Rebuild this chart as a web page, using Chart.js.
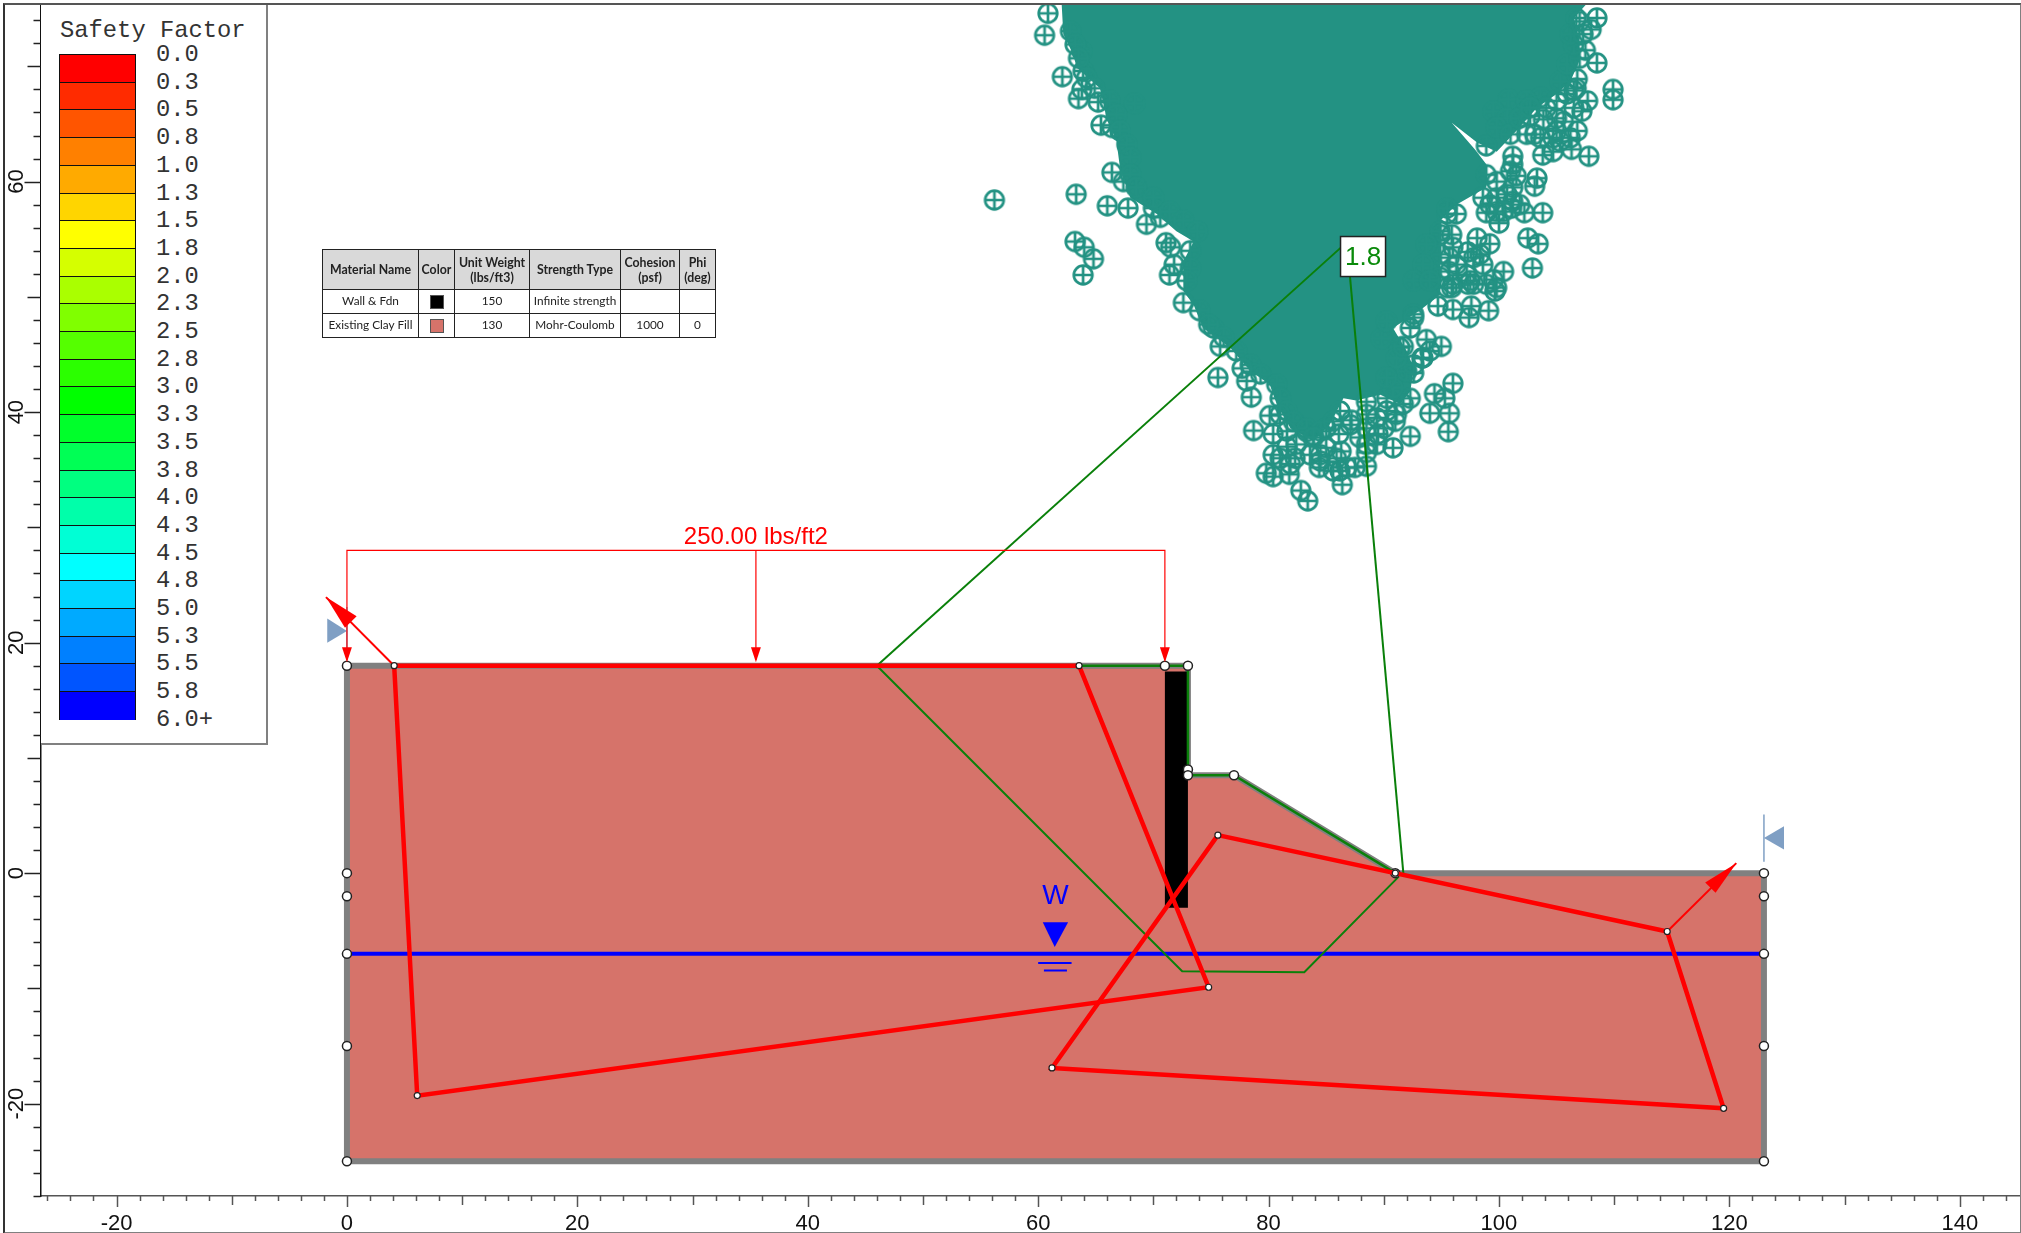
<!DOCTYPE html>
<html lang="en">

<head>
    <meta charset="UTF-8">
    <title>Safety Factor</title>
    <script src="https://cdn.jsdelivr.net/npm/chart.js"></script>
    <style>
        html, body { margin: 0; padding: 0; background: #fff; }
        #wrap { position: relative; width: 2021px; height: 1233px; overflow: hidden; }
        #plot { position: absolute; left: 0; top: 0; }
        #frame { position: absolute; left: 3px; top: 3px; width: 2015px; height: 1227px;
                 border: 2px solid #808080; border-left-color: #333; border-top-color: #555; pointer-events: none; }
        #scale { position: absolute; left: 41px; top: 5px; width: 225px; height: 738px; background: #fff;
                 border-right: 2px solid #808080; border-bottom: 2px solid #808080;
                 font-family: "Liberation Mono", monospace; color: #333; }
        #scale .title { position: absolute; left: 19px; top: 14px; font-size: 23.8px; line-height: 24px; white-space: pre; }
        #scale .band { position: absolute; left: 18px; width: 77px; box-sizing: border-box;
                       border: 1px solid #111; border-bottom: 0; }
        #scale .lab { position: absolute; left: 115px; font-size: 23.8px; line-height: 24px; white-space: pre; }
        #materials { position: absolute; left: 322px; top: 249px; border-collapse: collapse; table-layout: fixed;
                     font-family: Lato, "Open Sans", sans-serif; font-size: 11.8px; line-height: 15px; color: #222; text-align: center; }
        #materials th, #materials td { border: 1.5px solid #222; padding: 0; background: #fff; }
        #materials th { background: #d9d9d9; font-weight: bold; font-size: 12.3px; height: 39px; }
        #materials td { height: 21px; padding-bottom: 2px; }
        #materials i { display: inline-block; width: 14px; height: 14px; vertical-align: middle; border: 1px solid #555; box-sizing: border-box; }
    </style>
</head>

<body>
    <div id="wrap">
        <canvas id="plot" width="2021" height="1233"></canvas>
        <div id="scale"></div>
        <table id="materials">
            <colgroup><col style="width:96px"><col style="width:36px"><col style="width:75px"><col style="width:91px"><col style="width:59px"><col style="width:36px"></colgroup>
            <tr><th>Material Name</th><th>Color</th><th>Unit Weight<br>(lbs/ft3)</th><th>Strength Type</th><th>Cohesion<br>(psf)</th><th>Phi<br>(deg)</th></tr>
            <tr><td>Wall &amp; Fdn</td><td><i style="background:#000"></i></td><td>150</td><td>Infinite strength</td><td></td><td></td></tr>
            <tr><td>Existing Clay Fill</td><td><i style="background:#d6736a"></i></td><td>130</td><td>Mohr-Coulomb</td><td>1000</td><td>0</td></tr>
        </table>
        <div id="frame"></div>
    </div>

    <script>
        const xTickLabels = [-20, 0, 20, 40, 60, 80, 100, 120, 140];
        const yTickLabels = [-20, 0, 20, 40, 60];

        const safetyLabels = ['0.0', '0.3', '0.5', '0.8', '1.0', '1.3', '1.5', '1.8', '2.0', '2.3', '2.5', '2.8', '3.0',
            '3.3', '3.5', '3.8', '4.0', '4.3', '4.5', '4.8', '5.0', '5.3', '5.5', '5.8', '6.0+'];
        const safetyColors = ['#ff0000', '#ff2b00', '#ff5500', '#ff8000', '#ffaa00', '#ffd500', '#ffff00', '#d5ff00',
            '#aaff00', '#80ff00', '#55ff00', '#2bff00', '#00ff00', '#00ff2b', '#00ff55', '#00ff80', '#00ffaa', '#00ffd5',
            '#00ffff', '#00d5ff', '#00aaff', '#0080ff', '#0055ff', '#0000ff'];

        // geometry, in feet
        const clayOutline = [[0, 18], [73, 18], [73, 8.5], [77, 8.5], [91, 0], [123, 0], [123, -25], [0, -25], [0, 18]];
        const wallOutline = [[71, 17.5], [73, 17.5], [73, -3], [71, -3], [71, 17.5]];
        const waterTable = [[0, -7], [123, -7]];
        const waterMark = [[60.4, -4.25], [62.6, -4.25], [61.44, -6.4], [60.4, -4.25]];
        const waterDash1 = [[60, -7.8], [62.9, -7.8]];
        const waterDash2 = [[60.5, -8.45], [62.5, -8.45]];
        const slipSurface = [[46, 18], [72.5, -8.5], [83.1, -8.6], [91.3, -0.3]];
        const criticalTop = [[63.5, 18], [73, 18], [73, 8.5], [77, 8.5], [91, 0]];
        const radiusLeft = [[46, 18], [86.8, 54.75]];
        const radiusRight = [[86.8, 54.75], [91.7, 0]];
        const wedgeActive = [[4.1, 18], [6.1, -19.3], [74.8, -9.9], [63.55, 18], [4.1, 18]];
        const wedgePassive = [[75.6, 3.3], [114.6, -5.06], [119.5, -20.4], [61.2, -16.9], [75.6, 3.3]];
        const arrowLeft = [[4.1, 18], [-1.82, 23.95]];
        const arrowLeftHead = [[-1.82, 23.95], [0.84, 22.3], [-0.17, 21.3], [-1.82, 23.95]];
        const arrowRight = [[114.6, -5.06], [120.6, 0.87]];
        const arrowRightHead = [[120.6, 0.87], [117.9, -0.8], [118.8, -1.7], [120.6, 0.87]];
        const loadBracket = [[0, 18.5], [0, 28], [71, 28], [71, 18.5]];
        const loadMiddle = [[35.5, 28], [35.5, 18.5]];
        const loadHeadA = [[-0.43, 19.6], [0.43, 19.6], [0, 18.3], [-0.43, 19.6]];
        const loadHeadB = [[35.07, 19.6], [35.93, 19.6], [35.5, 18.3], [35.07, 19.6]];
        const loadHeadC = [[70.57, 19.6], [71.43, 19.6], [71, 18.3], [70.57, 19.6]];
        const limitLeft = [[-1.71, 22.1], [0, 21], [-1.71, 20], [-1.71, 22.1]];
        const limitLeftBar = [[0, 23.1], [0, 18.9]];
        const limitRight = [[124.74, 4.08], [123, 3.06], [124.74, 2.05], [124.74, 4.08]];
        const limitRightBar = [[123, 5.1], [123, 1]];
        const boundaryNodes = [[0, 18], [0, 0], [0, -2], [0, -7], [0, -15], [0, -25], [123, 0], [123, -2], [123, -7], [123, -15],
            [123, -25], [73, 18], [73, 9], [73, 8.5], [77, 8.5], [91, 0], [71, 18]];
        const wedgeNodes = [[4.1, 18], [6.1, -19.3], [74.8, -9.9], [63.55, 18], [75.6, 3.3], [114.6, -5.06], [119.5, -20.4], [61.2, -16.9], [91, 0]];

        // slip centres: where they overlap to a solid mass only the outline of the mass is kept
        const centreMass = [[62.04, 75.4], [62.18, 72.8], [63.05, 71], [63.34, 69.9], [65.36, 68.1], [65.94, 65.5], [66.8, 63.5], [67.1, 61.2],
            [68, 58.6], [70.3, 57.2], [72, 55.7], [73.5, 54.8], [72.6, 53.1], [72.6, 50.5], [73.5, 49.3], [74.3, 47.3], [76.65, 45.6],
            [78.4, 43.6], [80.1, 42.4], [80.7, 40.7], [81.9, 38.6], [83.9, 37.5], [85.3, 38.9], [86.5, 41.2], [87.6, 41], [89.7, 41.5],
            [91.4, 40.7], [92.3, 41.8], [92.6, 43.8], [92, 45.3], [90.8, 47.3], [93.1, 48.8], [94.9, 50.2], [94.9, 56.6], [96.3, 58],
            [98.9, 59.5], [98.9, 61.5], [97.9, 62.8], [95.9, 65.1], [98.1, 63.4], [99.8, 62.6], [101.5, 64.4], [103.3, 66.4], [105, 67.6], [106.2, 68.7],
            [107, 70.5], [107, 72.2], [106.5, 74.2], [107.6, 75.4], [62.04, 75.4]];
        const centresLeft = [[60.56, 72.7], [62.1, 69.1], [63.5, 67.2], [65.2, 66.9], [68.4, 66.8], [65.45, 64.9], [66.4, 60.8], [63.3, 58.9],
            [66, 57.9], [67.8, 57.7], [69.4, 56.3], [63.2, 54.8], [64, 54.3], [64.8, 53.3], [63.9, 51.9], [71.1, 54.7], [71.5, 54.3], [71.4, 51.9],
            [71.8, 52.8], [60.85, 74.6], [62.8, 73.06], [63.8, 71.3], [63.9, 69.6], [63.8, 68], [66.4, 64.7], [67.4, 60], [70, 57.7], [70.6, 56.9],
            [56.2, 58.4],
            [63.2, 71.9], [63.5, 70.7], [64.2, 69], [64.9, 68.1], [66.2, 67], [66.8, 65.8], [67.1, 64.4], [67.7, 63.2], [68, 62.1], [68, 60.6], [68.5, 59.5],
            [70, 58.6], [71.4, 57.4], [72.6, 56.6], [73.8, 55.7], [73.2, 54], [73.2, 52.5], [72.9, 51.4],
            [74, 48.8], [75.2, 47.3], [76.1, 46.5], [77.2, 45.3], [78.4, 44.1], [79.3, 43.3], [80.7, 42.4], [81, 41.2], [81.6, 40.1], [83.9, 38], [83.3, 38.3],
            [85, 38.6], [86.2, 40.1], [88.5, 40.9], [90.25, 41.2]];
        const centresRight = [[108.5, 74.2], [108, 73.2], [106.7, 74.2], [108.5, 70.3], [107.5, 71.4], [106.8, 68.9], [109.9, 68], [109.9, 67.1],
            [107.7, 67], [107.2, 66.1], [106.8, 64.4], [107.8, 62.2], [106.3, 62.8], [104.7, 62.6], [103.8, 62.3], [103.1, 64.1], [105, 65.5],
            [103.3, 60.3], [103.1, 59.6], [101.5, 60.5], [101.2, 62.2], [101.2, 61.5], [98.9, 63.1], [103.8, 57.3], [102.2, 57.3],
            [100, 56.4], [98.9, 57.3], [101.1, 57.7], [102.5, 55.1], [103.4, 54.6], [102.9, 52.5], [100.4, 52.2], [99.5, 51.5], [99.8, 50.8],
            [99.2, 54.6], [98.1, 55.1], [95.9, 55.4], [94.9, 55.4], [95.5, 57.2], [97.8, 53.4], [97.3, 53.9], [95.7, 53.4], [95.7, 52.2],
            [97.5, 51.4], [95.5, 50.8], [100.8, 67.1],
            [94.9, 55.7], [96, 54.3], [94.9, 53.7], [96.3, 52.8], [94.9, 51.7], [97.2, 51.9], [98.35, 53.7], [98.6, 52.8], [93.7, 54.55], [93.4, 52.8],
            [92.6, 51.4], [96, 51.1], [97.8, 51.1], [98.9, 51.1], [94, 51.4],
            [99.5, 66.1], [100.7, 65.5], [99.8, 64.7], [101, 64.1], [101.8, 65.5], [102.7, 65.7], [103.85, 65.4], [102.4, 64.1], [103.6, 63.8],
            [105, 64.4], [105.6, 65.2], [106.2, 63.8], [104.7, 63.8], [105.3, 63.5], [106.5, 66.4], [105.9, 67.6], [106.5, 67.9], [105, 67], [103.6, 67.3],
            [102.4, 67], [104.1, 66.4], [102.7, 66.4], [105.3, 68.7], [106.7, 68.1], [105.9, 70.2], [107, 70.7], [106.5, 71.9], [106.2, 72.8], [107, 73.9], [107.3, 72.8],
            [98.9, 60.6], [99.8, 60], [101, 60.9], [99.8, 58.6], [100.7, 58.9], [101.2, 58.3], [99.2, 58], [99.8, 57.4], [100.4, 57.4], [101.2, 59.5], [101.8, 58],
            [98.6, 58.6], [96.3, 57.2], [95.5, 57.7]];
        const centresLower = [[99.65, 50.5], [99.1, 48.8], [97.4, 48.2], [96, 48.9], [97.6, 49.2], [94.7, 49.2], [97.3, 51.1], [95.9, 50.8],
            [93.7, 46.3], [95, 45.7], [93.3, 44.7], [92.6, 43.4], [96, 42.5], [94.4, 41.6], [95.3, 41.2], [94, 39.9], [95.7, 39.9], [95.6, 38.3],
            [92.3, 37.9], [90.8, 36.9], [88.5, 37.2], [88.5, 35.3], [87.5, 35.2], [86.4, 33.7], [86.2, 34.9], [84.4, 35.2], [87.2, 39.3], [86.1, 38.1],
            [89.5, 38.1], [91, 39.2], [78.7, 38.4], [80.4, 38.1], [80.1, 39.7], [80.4, 36.3], [82.3, 36], [81.6, 37], [79.8, 34.7], [80.4, 34.4],
            [81.8, 34.6], [82.8, 33.2], [83.4, 32.3], [84.5, 36.3], [86.3, 36.6], [78.5, 41.3], [78.1, 42.7], [77.7, 43.8], [75.6, 43], [75.8, 45.7],
            [74.8, 47.6], [72.6, 49.5], [90.8, 43], [91.4, 45.6], [92.6, 48.5],
            [80.99, 39.8], [82.15, 39.2], [83.3, 38.6], [84.5, 38.35], [85.6, 39.2], [83.9, 37.8], [82.4, 37.2], [81.6, 38.35], [85, 36.9], [85.9, 36], [84.5, 35.75],
            [83.6, 36.3], [85.6, 34.9], [86.8, 35.2], [81, 36], [81.9, 35.5],
            [87.1, 38.9], [88.5, 39.8], [89.4, 39.5], [90.25, 40.1], [91.1, 39.8], [91.7, 40.7], [92.3, 41.2], [88.5, 38.6], [87.9, 37.8], [89.4, 37.2], [88.5, 36.5], [90, 38.6],
            [90.8, 42.1], [92, 43.55], [92.6, 44.1], [91.1, 44.7], [91.7, 45.7], [92.3, 47.3], [92.6, 48.2], [93.4, 44.7], [94, 45.3], [90.25, 43], [89.8, 46.4], [90.25, 47.9]];

        const toXY = pts => pts.map(p => ({ x: p[0], y: p[1] }));
        const stroke = (pts, color, width) => ({ data: toXY(pts), showLine: true, borderColor: color, borderWidth: width, pointRadius: 0, fill: false });
        const solid = (pts, color) => ({ data: toXY(pts), showLine: true, borderColor: color, borderWidth: 0, backgroundColor: color, pointRadius: 0, fill: 'shape' });
        const nodes = (pts, r, bw) => ({ data: toXY(pts), showLine: false, pointRadius: r, pointBorderWidth: bw, pointBackgroundColor: '#fff', pointBorderColor: '#222' });

        const RED = '#ff0000', GREEN = '#0a800a', BLUE = '#0000ff', TEAL = '#239283', STEEL = '#7f9fc4';

        // circle with a plus, the slip centre symbol
        const centreMark = document.createElement('canvas');
        centreMark.width = 24;
        centreMark.height = 24;
        const mc = centreMark.getContext('2d');
        mc.strokeStyle = TEAL;
        mc.lineWidth = 2.7;
        mc.beginPath();
        mc.arc(12, 12, 9.3, 0, Math.PI * 2);
        mc.moveTo(12, 2.7); mc.lineTo(12, 21.3);
        mc.moveTo(2.7, 12); mc.lineTo(21.3, 12);
        mc.stroke();

        const centres = pts => ({ data: toXY(pts), showLine: false, pointStyle: centreMark, pointRadius: 12 });

        // listed bottom first, reversed below because chart.js paints the first dataset last
        const layers = [
            solid(clayOutline, '#d6736a'),
            stroke(clayOutline, '#808080', 6),
            solid(wallOutline, '#000000'),
            solid(centreMass, TEAL),
            centres(centresLeft),
            centres(centresRight),
            centres(centresLower),
            stroke(waterTable, BLUE, 4),
            solid(waterMark, BLUE),
            stroke(waterDash1, BLUE, 2),
            stroke(waterDash2, BLUE, 2),
            stroke(slipSurface, GREEN, 2),
            stroke(criticalTop, GREEN, 2.5),
            stroke(radiusLeft, GREEN, 2),
            stroke(radiusRight, GREEN, 2),
            stroke(limitLeftBar, STEEL, 1.5),
            stroke(limitRightBar, STEEL, 1.5),
            solid(limitLeft, STEEL),
            solid(limitRight, STEEL),
            nodes(boundaryNodes, 4.5, 1.5),
            stroke(wedgeActive, RED, 4.5),
            stroke(wedgePassive, RED, 4.5),
            stroke(arrowLeft, RED, 2),
            stroke(arrowRight, RED, 2),
            solid(arrowLeftHead, RED),
            solid(arrowRightHead, RED),
            stroke(loadBracket, RED, 1.2),
            stroke(loadMiddle, RED, 1.2),
            solid(loadHeadA, RED),
            solid(loadHeadB, RED),
            solid(loadHeadC, RED),
            nodes(wedgeNodes, 3, 1.2)
        ];

        // ticks come in three lengths, which the library can't do per tick
        const tickMarks = {
            id: 'tickMarks',
            afterDraw(chart) {
                const { ctx, scales: { x, y } } = chart;
                ctx.save();
                ctx.lineWidth = 1.5;
                ctx.strokeStyle = '#555';
                x.ticks.forEach(t => {
                    const px = Math.round(x.getPixelForValue(t.value)) + 0.5;
                    const len = t.value % 20 === 0 ? 11 : t.value % 10 === 0 ? 9 : 5;
                    ctx.beginPath();
                    ctx.moveTo(px, x.top);
                    ctx.lineTo(px, x.top + len);
                    ctx.stroke();
                });
                ctx.strokeStyle = '#222';
                y.ticks.forEach(t => {
                    const py = Math.round(y.getPixelForValue(t.value)) + 0.5;
                    const len = t.value % 20 === 0 ? 16 : t.value % 10 === 0 ? 13 : 7;
                    ctx.beginPath();
                    ctx.moveTo(y.right, py);
                    ctx.lineTo(y.right - len, py);
                    ctx.stroke();
                });
                ctx.restore();
            }
        };

        const annotations = {
            id: 'annotations',
            afterDatasetsDraw(chart) {
                const { ctx, scales: { x, y } } = chart;
                ctx.save();
                ctx.textAlign = 'center';
                ctx.textBaseline = 'middle';
                ctx.font = '24px "Liberation Sans", Arial, sans-serif';
                ctx.fillStyle = RED;
                ctx.fillText('250.00 lbs/ft2', x.getPixelForValue(35.5), y.getPixelForValue(29.1));
                ctx.font = '28px "Liberation Sans", Arial, sans-serif';
                ctx.fillStyle = BLUE;
                ctx.fillText('W', x.getPixelForValue(61.5), y.getPixelForValue(-2));
                const bx = x.getPixelForValue(88.2), by = y.getPixelForValue(53.5);
                ctx.fillStyle = '#fff';
                ctx.fillRect(bx - 22.5, by - 20, 45, 40);
                ctx.strokeStyle = '#222';
                ctx.lineWidth = 1.5;
                ctx.strokeRect(bx - 22.5, by - 20, 45, 40);
                ctx.font = '26px "Liberation Sans", Arial, sans-serif';
                ctx.fillStyle = '#0a8a0a';
                ctx.fillText('1.8', bx, by + 1);
                ctx.restore();
            }
        };

        new Chart(document.getElementById('plot').getContext('2d'), {
            type: 'scatter',
            data: { datasets: layers.slice().reverse() },
            plugins: [tickMarks, annotations],
            options: {
                responsive: false,
                animation: false,
                layout: { autoPadding: false, padding: { left: 0, right: 2, top: 4, bottom: 0 } },
                plugins: { legend: { display: false }, tooltip: { enabled: false } },
                elements: { line: { tension: 0 } },
                scales: {
                    x: {
                        type: 'linear', min: -26.6, max: 145.14,
                        afterFit(s) { s.height = 37; s.paddingLeft = 0; s.paddingRight = 0; },
                        grid: { display: false, drawTicks: false },
                        border: { display: true, color: '#555', width: 1.5 },
                        ticks: {
                            stepSize: 2, autoSkip: false, includeBounds: false, maxRotation: 0, minRotation: 0, padding: 15,
                            color: '#111', font: { family: '"Liberation Sans", Arial, sans-serif', size: 22 },
                            callback: v => xTickLabels.includes(v) ? String(v) : ''
                        }
                    },
                    y: {
                        type: 'linear', min: -28.01, max: 75.41,
                        afterFit(s) { s.width = 40.5; s.paddingTop = 0; s.paddingBottom = 0; },
                        grid: { display: false, drawTicks: false },
                        border: { display: true, color: '#111', width: 1.5 },
                        ticks: {
                            stepSize: 2, autoSkip: false, includeBounds: false, minRotation: 90, maxRotation: 90, crossAlign: 'center', padding: 8,
                            color: '#111', font: { family: '"Liberation Sans", Arial, sans-serif', size: 22 },
                            callback: v => yTickLabels.includes(v) ? String(v) : ''
                        }
                    }
                }
            }
        });

        // colour scale box
        const scaleBox = document.getElementById('scale');
        const BAND_TOP = 49, BAND_H = 27.7;
        let html = '<div class="title">Safety Factor</div>';
        safetyColors.forEach((c, i) => {
            html += `<div class="band" style="top:${BAND_TOP + i * BAND_H}px;height:${BAND_H + 1}px;background:${c}"></div>`;
        });
        safetyLabels.forEach((l, i) => {
            html += `<div class="lab" style="top:${BAND_TOP - 11 + i * BAND_H}px">${l}</div>`;
        });
        scaleBox.innerHTML = html;
    </script>
</body>

</html>
